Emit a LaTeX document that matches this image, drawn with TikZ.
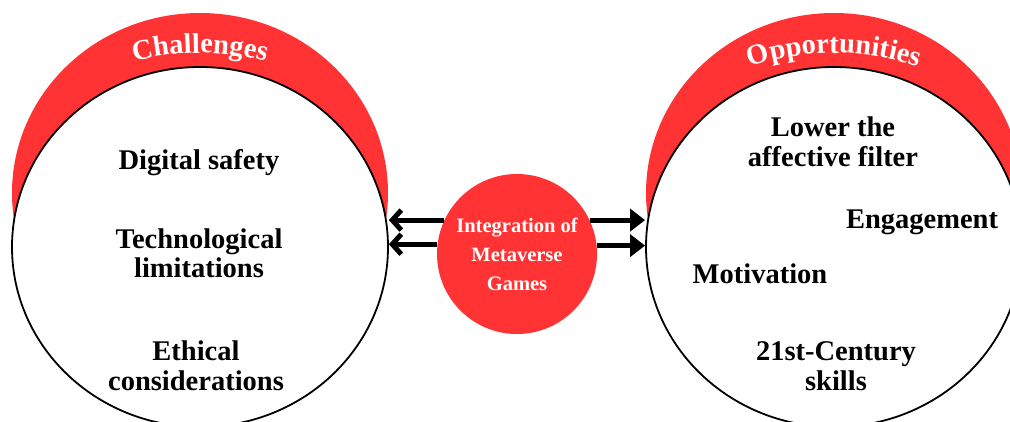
\documentclass[tikz,border=0pt]{standalone}
\usepackage{fontspec}
\setmainfont{Liberation Serif}
\usetikzlibrary{shapes.geometric,arrows.meta,decorations.text,calc}
\definecolor{mgred}{RGB}{255,51,51}
\newcommand{\titlefont}{\bfseries\fontsize{28.5}{28.5}\selectfont}

\begin{document}
\begin{tikzpicture}[x=1pt,y=1pt,
  capback/.style={ellipse,fill=mgred,minimum width=376pt,minimum height=360pt,inner sep=0pt},
  bigcirc/.style={ellipse,draw=black,line width=1.8pt,fill=white,minimum width=376pt,minimum height=360pt,inner sep=0pt},
  itemtext/.style={align=center,inner sep=0pt,font=\bfseries\fontsize{28.5}{29.5}\selectfont},
  leftarr/.style={line width=5pt,-{Straight Barb[length=9pt,width=20pt]}},
  rightarr/.style={line width=5pt,-{Triangle[length=15pt,width=22pt]}},
  titlearc/.style={decorate,decoration={text along path,text align=center,text color=white,text={|\titlefont|#1}}}]
%\draw[help lines,gray,step=50] (0,0) grid (1010,421);
\useasboundingbox (0,0) rectangle (1010,421);
% red caps behind the two big circles
\node[capback] (lcback) at (200,228) {};
\node[capback] (rcback) at (834,228) {};
\node[bigcirc] (lc) at (200,174) {};
\node[bigcirc] (rc) at (834,174) {};
% challenges
\node[itemtext,anchor=base] (safety) at (199,251) {Digital safety};
\node[itemtext] (techlim) at (199,167.5) {Technological\\limitations};
\node[itemtext] (ethics) at (196,55) {Ethical\\considerations};
% opportunities
\node[itemtext] (filter) at (833,279) {Lower the\\affective filter};
\node[itemtext,anchor=base] (engage) at (922,193) {Engagement};
\node[itemtext,anchor=base] (motiv) at (760,138) {Motivation};
\node[itemtext] (skills) at (836,55) {21st-Century\\skills};
% centre
\node[circle,fill=mgred,minimum size=160pt,inner sep=0pt,align=center,text=white,
  font=\bfseries\fontsize{20.5}{29}\selectfont] (mid) at (517,167) {Integration of\\Metaverse\\Games};
\draw[leftarr] (mid.155) -- (mid.155 -| lc.east);
\draw[leftarr] (mid.173.5) -- (mid.173.5 -| lc.east);
\draw[rightarr] (mid.25) -- (mid.25 -| rc.west);
\draw[rightarr] (mid.6.5) -- (mid.6.5 -| rc.west);
% curved titles
\path[titlearc=Challenges] ($(lc.center)+(0,-66)+(116:260)$) arc[start angle=116,end angle=64,radius=260];
\path[titlearc=Opportunities] ($(rc.center)+(0,-66)+(116:260)$) arc[start angle=116,end angle=64,radius=260];
\end{tikzpicture}
\end{document}
